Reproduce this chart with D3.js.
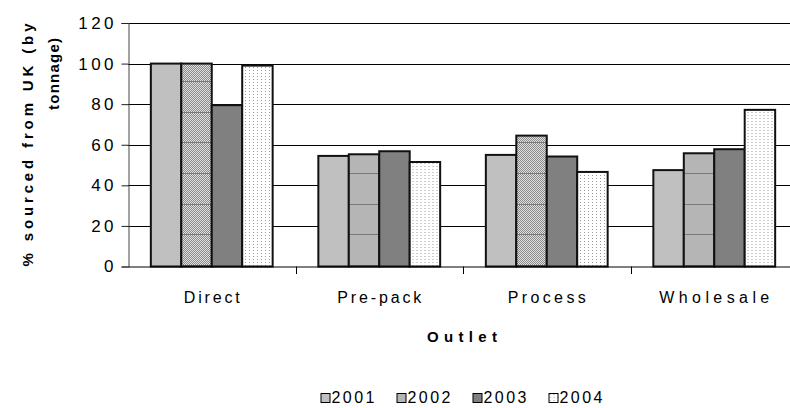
<!DOCTYPE html>
<html>
<head>
<meta charset="utf-8">
<script src="https://cdn.jsdelivr.net/npm/d3@7"></script>
<style>
  html, body { margin: 0; padding: 0; background: #fff; }
  svg { display: block; font-family: "Liberation Sans", Arial, sans-serif; }
</style>
</head>
<body>
<svg id="chart" width="790" height="408"></svg>
<script>
// Share of product sourced from the UK, by outlet and year
const outlets = ["Direct", "Pre-pack", "Process", "Wholesale"];
const years = ["2001", "2002", "2003", "2004"];
const v2001 = [100, 54.5, 55, 47.5];
const v2002 = [100, 55.3, 64.5, 55.8];
const v2003 = [79.5, 56.8, 54.2, 57.8];
const v2004 = [99, 51.5, 46.6, 77.2];
const yTicks = [0, 20, 40, 60, 80, 100, 120];
const seriesValues = [v2001, v2002, v2003, v2004];

const svg = d3.select("#chart");
const W = 790, H = 408;

// Fills: solid greys plus two textured patterns
const defs = svg.append("defs");
const chk = defs.append("pattern").attr("id", "chk")
  .attr("patternUnits", "userSpaceOnUse").attr("width", 2).attr("height", 2);
chk.append("rect").attr("width", 2).attr("height", 2).attr("fill", "#e2e2e2");
chk.append("rect").attr("x", 0).attr("y", 0).attr("width", 1).attr("height", 1).attr("fill", "#888888");
chk.append("rect").attr("x", 1).attr("y", 1).attr("width", 1).attr("height", 1).attr("fill", "#888888");

const hatch = defs.append("pattern").attr("id", "hatch")
  .attr("patternUnits", "userSpaceOnUse").attr("x", 0).attr("y", 81)
  .attr("width", 4).attr("height", 92);
hatch.append("rect").attr("width", 4).attr("height", 92).attr("fill", "url(#chk)");
[0, 31, 61].forEach(yy => hatch.append("rect").attr("x", 0).attr("y", yy)
  .attr("width", 4).attr("height", 1).attr("fill", "#7a7a7a"));

const dots = defs.append("pattern").attr("id", "dots")
  .attr("patternUnits", "userSpaceOnUse").attr("width", 4).attr("height", 3);
dots.append("rect").attr("width", 4).attr("height", 3).attr("fill", "#ffffff");
dots.append("rect").attr("x", 1).attr("y", 1).attr("width", 1).attr("height", 1).attr("fill", "#9a9a9a");

const fills = ["#c0c0c0", "url(#hatch)", "#808080", "url(#dots)"];

// Scales
const x0 = d3.scaleBand().domain(outlets).range([128, 798]).padding(0);
const x1 = d3.scaleBand().domain(years).range([0, x0.bandwidth()])
  .paddingInner(0).paddingOuter(0.75);
const y = d3.scaleLinear().domain([0, 120]).range([266.5, 23]);

// Horizontal gridlines
svg.append("g").selectAll("line").data(yTicks.filter(d => d > 0)).join("line")
  .attr("x1", 128).attr("x2", W)
  .attr("y1", d => Math.round(y(d)) + 0.5).attr("y2", d => Math.round(y(d)) + 0.5)
  .attr("stroke", "#000").attr("stroke-width", 1);

// Bars
const rows = outlets.map((o, i) => ({ outlet: o, vals: years.map((yr, j) => ({ year: yr, j, v: seriesValues[j][i] })) }));
const groups = svg.append("g").selectAll("g").data(rows).join("g")
  .attr("transform", d => `translate(${x0(d.outlet)},0)`);
groups.selectAll("rect").data(d => d.vals).join("rect")
  .attr("x", d => x1(d.year))
  .attr("y", d => y(d.v))
  .attr("width", x1.bandwidth())
  .attr("height", d => y(0) - y(d.v))
  .attr("fill", d => fills[d.j])
  .attr("stroke", "#111").attr("stroke-width", 2);

// Y axis
const yAxis = d3.axisLeft(y).tickValues(yTicks).tickSize(7).tickPadding(8).tickFormat(d3.format("d"));
const gy = svg.append("g").attr("transform", "translate(128.5,0)").call(yAxis);
gy.select(".domain").attr("stroke", "#444");
gy.selectAll(".tick line").attr("stroke", "#222");
gy.selectAll(".tick text").attr("font-size", 17).attr("letter-spacing", "3.4px")
  .attr("fill", "#000").attr("font-family", "Liberation Sans, Arial, sans-serif")
  .attr("dx", "3.4");

// X axis
const xAxis = d3.axisBottom(x0).tickSize(0).tickPadding(0);
const gx = svg.append("g").attr("transform", "translate(0,266.5)").call(xAxis);
gx.select(".domain").attr("stroke", "#000");
gx.selectAll(".tick text").remove();
// tick marks at category boundaries
svg.append("g").selectAll("line").data(outlets.slice(1)).join("line")
  .attr("x1", d => Math.round(x0(d)) + 0.5).attr("x2", d => Math.round(x0(d)) + 0.5)
  .attr("y1", 266.5).attr("y2", 274).attr("stroke", "#000");

// Category labels
const catWidths = { "Direct": 56, "Pre-pack": 84, "Process": 78, "Wholesale": 110 };
svg.append("g").selectAll("text").data(outlets).join("text")
  .attr("x", d => x0(d) + x0.bandwidth() / 2)
  .attr("y", 303)
  .attr("text-anchor", "middle")
  .attr("font-size", 16)
  .attr("textLength", d => catWidths[d]).attr("lengthAdjust", "spacing")
  .text(d => d);

// Axis titles
svg.append("text").attr("x", 462).attr("y", 342).attr("text-anchor", "middle")
  .attr("font-size", 15).attr("font-weight", "bold")
  .attr("textLength", 70).attr("lengthAdjust", "spacing").text("Outlet");

svg.append("text").attr("transform", "translate(33,145) rotate(-90)")
  .attr("text-anchor", "middle").attr("font-size", 15).attr("font-weight", "bold")
  .attr("textLength", 243).attr("lengthAdjust", "spacing").text("% sourced from UK (by");
svg.append("text").attr("transform", "translate(59,74) rotate(-90)")
  .attr("text-anchor", "middle").attr("font-size", 15).attr("font-weight", "bold")
  .attr("textLength", 72).attr("lengthAdjust", "spacing").text("tonnage)");

// Legend
const legend = svg.append("g").selectAll("g").data(years).join("g")
  .attr("transform", (d, i) => `translate(${320.5 + i * 76},0)`);
legend.append("rect").attr("x", 0.5).attr("y", 393.5).attr("width", 9).attr("height", 9)
  .attr("fill", (d, i) => fills[i]).attr("stroke", "#000").attr("stroke-width", 1);
legend.append("text").attr("x", 11).attr("y", 403).attr("font-size", 16)
  .attr("textLength", 43).attr("lengthAdjust", "spacing").text(d => d);
</script>
</body>
</html>
